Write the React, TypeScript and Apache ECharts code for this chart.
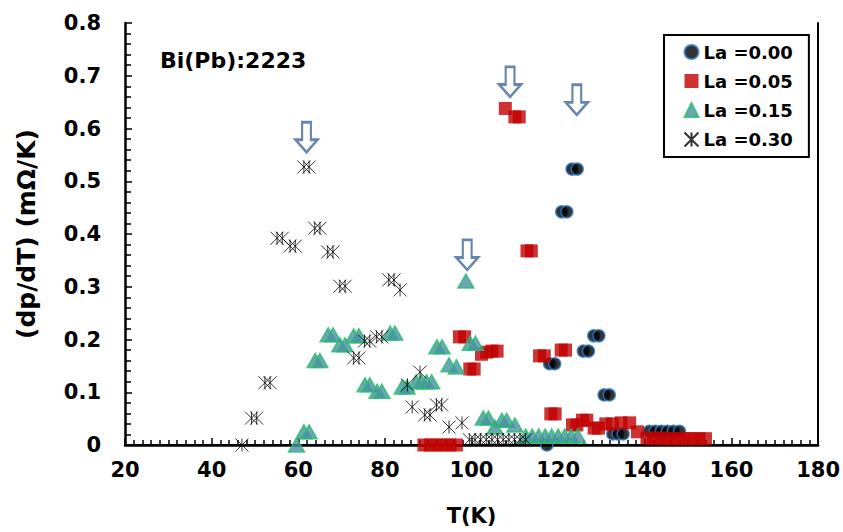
import React, { useEffect, useRef } from "react";
import * as echarts from "echarts";

// dρ/dT versus temperature for Bi(Pb):2223 with La substitution
const la000: number[][] = [
  [117.4, 0], [118, 0.154], [119.2, 0.154], [120.8, 0.442], [122, 0.442],
  [123.2, 0.523], [124.4, 0.523], [125.8, 0.178], [127, 0.178], [128.2, 0.207],
  [129.4, 0.207], [130.6, 0.095], [131.8, 0.095], [132.6, 0.021], [133.8, 0.021],
  [135, 0.021], [141, 0.026], [142.4, 0.026], [143.8, 0.026], [145.2, 0.026],
  [146.6, 0.026], [148, 0.026],
];

const la005: number[][] = [
  [89, 0], [90.5, 0], [92, 0], [93.5, 0], [95, 0], [96.5, 0],
  [97.2, 0.205], [98.4, 0.205], [99.6, 0.144], [100.6, 0.144],
  [102.3, 0.172], [103.5, 0.176], [104.7, 0.178], [105.9, 0.178],
  [107.8, 0.638], [110, 0.622], [111, 0.622], [112.8, 0.368], [113.8, 0.368],
  [115.7, 0.169], [116.8, 0.169], [118.3, 0.059], [119.3, 0.059],
  [120.7, 0.18], [121.7, 0.18], [123.3, 0.038], [124.3, 0.038],
  [125.6, 0.047], [126.6, 0.047], [128.3, 0.032], [129.3, 0.032],
  [131, 0.04], [132.5, 0.04], [134.5, 0.042], [136.5, 0.042], [138.3, 0.025],
  [140.5, 0.013], [142, 0.013], [143.5, 0.013], [145, 0.012], [146.5, 0.012],
  [148, 0.012], [149.5, 0.012], [151, 0.012], [152.5, 0.012], [154, 0.012],
];

const la015: number[][] = [
  [59.6, 0], [61.3, 0.025], [62.5, 0.025], [63.9, 0.16], [65, 0.16],
  [66.9, 0.209], [68, 0.209], [69.6, 0.19], [70.8, 0.19], [72.8, 0.207],
  [74, 0.207], [75.4, 0.114], [76.5, 0.114], [78.2, 0.102], [79.3, 0.102],
  [81.2, 0.212], [82.3, 0.212], [84, 0.11], [85.1, 0.11], [87.2, 0.12],
  [88.4, 0.12], [89.6, 0.12], [90.8, 0.12], [92, 0.186], [93.2, 0.186],
  [94.8, 0.152], [96.5, 0.148], [98.7, 0.311], [99.7, 0.193], [100.9, 0.193],
  [102.7, 0.051], [103.9, 0.051], [105.4, 0.034], [107, 0.047], [108.1, 0.047],
  [110, 0.038], [112.5, 0.017], [114, 0.017], [115.5, 0.017], [117, 0.017],
  [118.5, 0.017], [120, 0.017], [121.5, 0.017], [123, 0.017], [124.5, 0.017],
];

const la030: number[][] = [
  [47, 0], [49.2, 0.051], [50.4, 0.051], [52.3, 0.118], [53.5, 0.118],
  [55.1, 0.392], [56.3, 0.392], [58.1, 0.377], [59.3, 0.377], [61.3, 0.527],
  [62.5, 0.527], [63.8, 0.411], [65, 0.411], [66.8, 0.366], [68, 0.366],
  [69.6, 0.301], [70.8, 0.301], [72.8, 0.165], [74, 0.165], [75.3, 0.197],
  [76.5, 0.197], [78.1, 0.205], [79.3, 0.205], [80.9, 0.313], [82.1, 0.313],
  [83.5, 0.294], [85.2, 0.114], [86.3, 0.072], [88.1, 0.138], [89.2, 0.057],
  [90.4, 0.057], [91.9, 0.076], [93.1, 0.076], [94.8, 0.034], [97.8, 0.042],
  [99.5, 0.01], [100.8, 0.01], [102.1, 0.01], [103.4, 0.01], [104.7, 0.01],
  [106, 0.01], [107.3, 0.01], [108.6, 0.01], [109.9, 0.01], [111.2, 0.01],
  [112.5, 0.01],
];

// Peak positions marked with down arrows
const arrowMarks: number[][] = [
  [61.9, 0.555], [108.9, 0.66], [124.3, 0.626], [99, 0.332],
];

const seriesNames = ["La =0.00", "La =0.05", "La =0.15", "La =0.30"];
const xTicks = { min: 20, max: 180, interval: 20 };
const yTicks = { min: 0, max: 0.8, interval: 0.1 };

const FONT = "DejaVu Sans";
const STAR = "path://M0,0L10,10M10,0L0,10M5,0L5,10";
const ARROW = "path://M7,0L15,0L15,17L21,17L11,29L1,17L7,17Z";

const frameLine = { show: true, lineStyle: { color: "#000", width: 2 } };
const hiddenSplit = { show: true, lineStyle: { color: "rgba(0,0,0,0)" } };

export default function App() {
  const ref = useRef<HTMLDivElement>(null);

  useEffect(() => {
    if (!ref.current) return;
    const chart = echarts.init(ref.current, null, { renderer: "svg" });
    chart.setOption({
      animation: false,
      backgroundColor: "#fff",
      textStyle: { fontFamily: FONT },
      grid: { left: 125, right: 23, top: 23, bottom: 87 },
      title: {
        text: "Bi(Pb):2223",
        left: 155, top: 44,
        textStyle: { fontFamily: FONT, fontWeight: "bold", fontSize: 22, color: "#000" },
      },
      legend: {
        data: seriesNames,
        orient: "vertical",
        left: 664, top: 35,
        padding: [8, 16, 8, 18],
        itemGap: 11,
        itemWidth: 14, itemHeight: 14,
        borderColor: "#000", borderWidth: 2,
        backgroundColor: "#fff",
        textStyle: { fontFamily: FONT, fontWeight: "bold", fontSize: 18, color: "#000" },
      },
      xAxis: [
        {
          type: "value",
          ...xTicks,
          name: "T(K)",
          nameLocation: "middle",
          nameGap: 60,
          nameTextStyle: { fontFamily: FONT, fontWeight: "bold", fontSize: 21, color: "#000" },
          axisLine: { show: true, lineStyle: { color: "#000", width: 2.5 } },
          axisTick: { show: true, inside: true, length: 7, lineStyle: { color: "#000", width: 1.5 } },
          minorTick: { show: true, splitNumber: 10, length: 5, lineStyle: { color: "#000", width: 1.5 } },
          axisLabel: { margin: 14, fontFamily: FONT, fontWeight: "bold", fontSize: 21, color: "#000" },
          splitLine: hiddenSplit,
        },
        {
          type: "value", position: "top", ...xTicks,
          axisLine: frameLine, axisTick: { show: false }, axisLabel: { show: false },
          splitLine: { show: false },
        },
      ],
      yAxis: [
        {
          type: "value",
          ...yTicks,
          name: "(dp/dT) (mΩ/K)",
          nameLocation: "middle",
          nameGap: 86,
          nameTextStyle: { fontFamily: FONT, fontWeight: "bold", fontSize: 25, color: "#000" },
          axisLine: { show: true, lineStyle: { color: "#000", width: 2.5 } },
          axisTick: { show: true, inside: true, length: 7, lineStyle: { color: "#000", width: 1.5 } },
          minorTick: { show: true, splitNumber: 5, length: 6, lineStyle: { color: "#000", width: 1.5 } },
          axisLabel: {
            margin: 24, fontFamily: FONT, fontWeight: "bold", fontSize: 21, color: "#000",
            formatter: (v: number) => (v === 0 ? "0" : v.toFixed(1)),
          },
          splitLine: hiddenSplit,
        },
        {
          type: "value", position: "right", ...yTicks,
          axisLine: frameLine, axisTick: { show: false }, axisLabel: { show: false },
          splitLine: { show: false },
        },
      ],
      series: [
        {
          name: seriesNames[0], type: "scatter", data: la000,
          symbol: "circle", symbolSize: 12,
          itemStyle: { color: "#000", borderColor: "#2e78c7", borderWidth: 1.5 },
        },
        {
          name: seriesNames[1], type: "scatter", data: la005,
          symbol: "rect", symbolSize: 13,
          itemStyle: { color: "#c00000" },
        },
        {
          name: seriesNames[2], type: "scatter", data: la015,
          symbol: "triangle", symbolSize: [16, 14],
          itemStyle: { color: "#4a8ea5", borderColor: "#25c06a", borderWidth: 1.5 },
        },
        {
          name: seriesNames[3], type: "scatter", data: la030,
          symbol: STAR, symbolSize: 13,
          itemStyle: { color: "none", borderColor: "#000", borderWidth: 1 },
        },
        {
          name: "peaks", type: "scatter", data: arrowMarks,
          symbol: ARROW, symbolSize: [22, 30], symbolOffset: [0, "-50%"],
          silent: true, z: 5,
          itemStyle: { color: "#fff", borderColor: "#41689a", borderWidth: 2.5 },
        },
      ],
    });
    return () => chart.dispose();
  }, []);

  return <div ref={ref} style={{ width: 843, height: 532, position: "absolute", left: 0, top: 0 }} />;
}
